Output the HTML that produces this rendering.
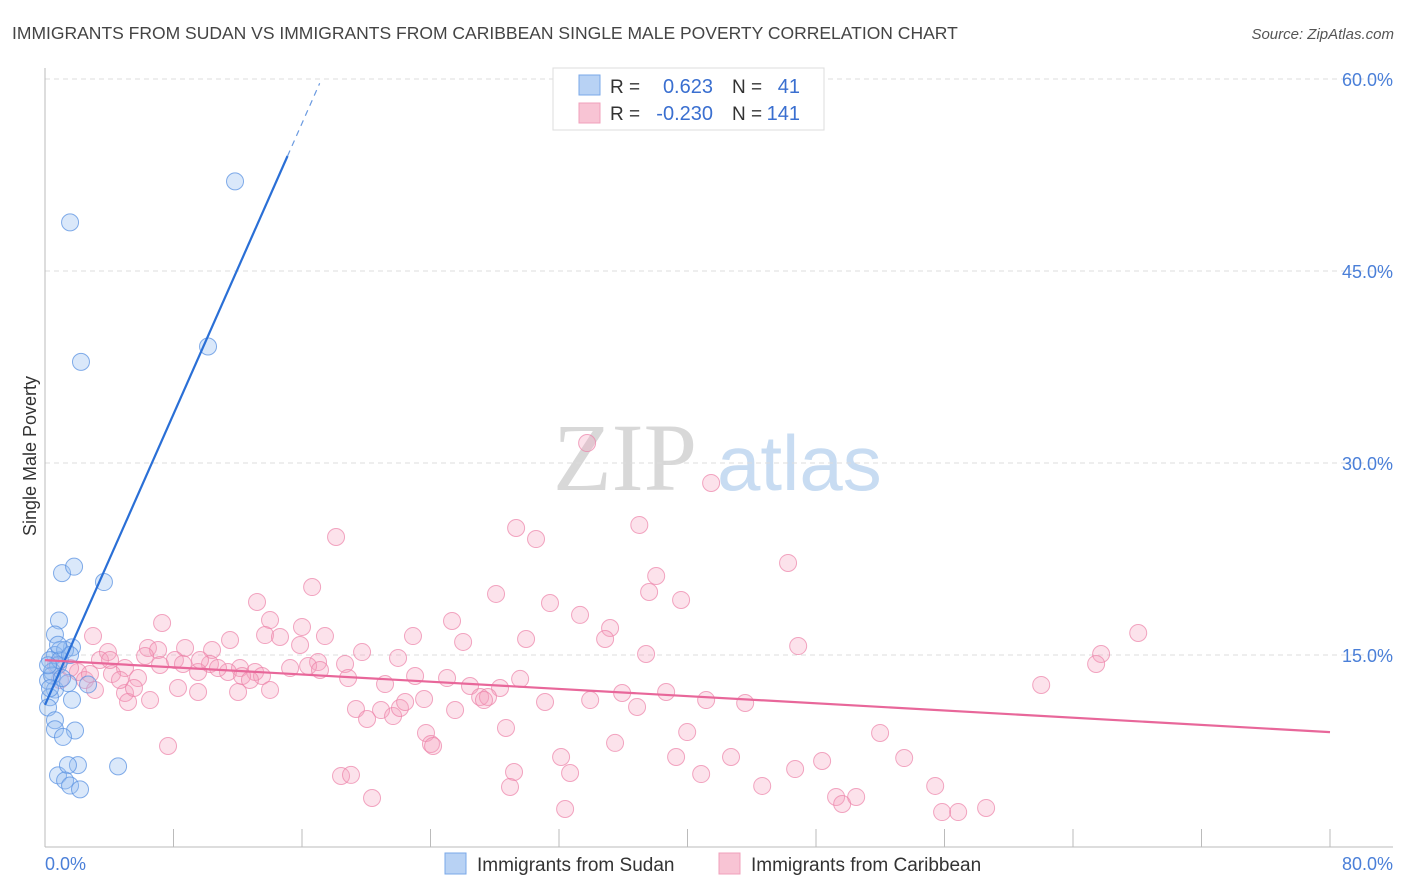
<!DOCTYPE html>
<html><head><meta charset="utf-8"><style>
body{margin:0;background:#fff;font-family:"Liberation Sans",sans-serif;}
#c{position:absolute;left:0;top:0;}
</style></head><body>
<svg id="c" width="1406" height="892">
<text x="12" y="39" font-size="17.5" fill="#444">IMMIGRANTS FROM SUDAN VS IMMIGRANTS FROM CARIBBEAN SINGLE MALE POVERTY CORRELATION CHART</text>
<text x="1394" y="39" font-size="15" fill="#555" font-style="italic" text-anchor="end">Source: ZipAtlas.com</text>
<g>
<text x="553" y="490" font-family="Liberation Serif,serif" font-size="96" fill="#d8d8d8">ZIP</text>
<text x="717" y="490" font-size="78" fill="#c8dcf2">atlas</text>
</g>
<g id="grid"></g>
<g id="axes"></g>
<g id="pts"></g>
<g id="lines"></g>
<text x="36" y="456" font-size="18" fill="#333" text-anchor="middle" transform="rotate(-90 36 456)">Single Male Poverty</text>
<g>
<rect x="553" y="68" width="271" height="62" fill="#fff" stroke="#ddd"/>
<rect x="579" y="75" width="21" height="20" fill="#b8d2f4" stroke="#7aa8e8"/>
<rect x="579" y="103" width="21" height="20" fill="#f8c4d4" stroke="#f0a0bb"/>
<text x="610" y="93" font-size="19" fill="#333">R =</text>
<text x="713" y="93" font-size="20" fill="#3a6fd0" text-anchor="end">0.623</text>
<text x="732" y="93" font-size="19" fill="#333">N =</text>
<text x="800" y="93" font-size="20" fill="#3a6fd0" text-anchor="end">41</text>
<text x="610" y="120" font-size="19" fill="#333">R =</text>
<text x="713" y="120" font-size="20" fill="#3a6fd0" text-anchor="end">-0.230</text>
<text x="732" y="120" font-size="19" fill="#333">N =</text>
<text x="800" y="120" font-size="20" fill="#3a6fd0" text-anchor="end">141</text>
</g>
<g>
<rect x="445" y="853" width="21" height="21" fill="#b8d2f4" stroke="#7aa8e8"/>
<text x="477" y="871" font-size="19" fill="#333">Immigrants from Sudan</text>
<rect x="719" y="853" width="21" height="21" fill="#f8c4d4" stroke="#f0a0bb"/>
<text x="751" y="871" font-size="19" fill="#333">Immigrants from Caribbean</text>
</g>
</svg>
<script>
const yTicks=[15,30,45,60];
const yTickLabels=["15.0%","30.0%","45.0%","60.0%"];
const xTicks=[0,8,16,24,32,40,48,56,64,72,80];
const xEndLabels=["0.0%","80.0%"];
const sudanX=[1.56,11.83,2.24,10.15,1.06,1.81,3.67,0.87,0.62,1.68,0.93,0.62,0.31,0.81,0.44,0.19,0.62,0.31,1.68,0.19,0.62,0.62,1.87,1.12,4.55,2.05,0.81,1.43,1.25,1.56,2.18,2.68,1.43,0.44,0.93,0.19,1.25,0.31,1.56,0.81,1.06];
const sudanY=[48.8,52.0,37.9,39.1,21.4,21.9,20.7,17.7,16.6,15.6,15.4,15.0,14.6,14.2,13.7,13.0,12.3,11.7,11.5,10.9,9.9,9.2,9.1,8.6,6.3,6.4,5.6,6.4,5.2,4.8,4.5,12.7,12.8,13.4,14.6,14.2,15.4,12.4,15.0,15.8,13.2];
const caribX=[33.75,41.47,18.12,29.33,30.57,37.0,46.26,38.05,16.63,28.08,37.61,39.6,31.44,33.31,13.2,25.34,7.29,14.01,16.0,35.18,68.06,2.99,13.7,14.63,17.43,22.91,26.03,29.95,34.87,46.89,65.75,65.44,3.92,6.41,7.04,8.72,10.4,6.23,8.09,10.27,12.14,13.08,15.26,17.0,18.68,19.74,21.98,37.42,3.42,4.98,8.59,9.53,11.39,13.51,16.38,17.12,18.87,21.17,23.04,25.03,26.46,28.33,29.58,4.17,5.79,8.28,9.53,12.02,4.98,5.17,5.54,10.77,12.27,12.76,2.05,1.56,2.49,2.8,31.13,33.94,35.93,36.86,38.67,41.16,43.59,62.02,27.09,27.58,19.36,20.92,21.67,22.1,20.05,22.42,23.6,25.53,27.33,28.7,23.72,24.03,24.16,7.66,35.49,39.98,51.99,32.13,39.29,42.71,53.49,29.2,32.69,40.85,46.7,48.38,18.43,19.05,28.95,44.65,55.42,20.36,32.38,49.25,49.63,50.5,55.85,56.85,58.59,4.05,4.67,6.54,0.93,0.68,3.11,15.88,14.01,7.16,9.65,11.52];
const caribY=[31.56,28.44,24.22,24.92,24.06,25.16,22.19,21.17,20.31,19.77,19.92,19.3,19.06,18.13,19.14,17.66,17.5,17.73,17.19,17.11,16.72,16.48,16.56,16.41,16.48,16.48,16.02,16.25,16.25,15.7,15.08,14.3,15.23,15.55,15.39,15.55,15.39,14.92,14.61,14.3,13.98,13.67,13.98,14.45,14.3,15.23,14.77,15.08,14.61,13.98,14.3,13.67,13.67,13.36,14.14,13.83,13.2,12.73,13.36,13.2,12.58,12.42,13.13,13.52,13.2,12.42,12.11,12.11,12.03,11.33,12.42,13.98,13.36,13.05,13.67,13.98,13.05,13.52,11.33,11.48,12.03,10.94,12.11,11.48,11.25,12.66,11.72,11.72,10.78,10.7,10.23,10.86,10.0,11.33,11.56,10.7,11.48,9.3,8.91,8.05,7.89,7.89,8.13,8.98,8.91,7.03,7.03,7.03,6.95,5.86,5.78,5.7,6.09,6.72,5.55,5.63,4.69,4.77,4.77,3.83,2.97,3.91,3.36,3.91,2.73,2.73,3.05,14.61,13.05,11.48,13.05,14.22,12.27,15.78,12.27,14.22,14.61,16.17];
const sudanTrend=[11.1,2.84]; // intercept, slope
const sudanSolidEnd=15.1, sudanDashEnd=17.1;
const caribTrend=[14.6,-0.0703];

const X=v=>45+v*16.0625;
const Y=v=>847-v*12.8;
const NS="http://www.w3.org/2000/svg";
function mk(tag,attrs,parent){const e=document.createElementNS(NS,tag);for(const k in attrs)e.setAttribute(k,attrs[k]);document.getElementById(parent).appendChild(e);return e;}

yTicks.forEach((t,i)=>{
  const g=mk('line',{x1:45,x2:1393,y1:Y(t),y2:Y(t),stroke:'#ddd','stroke-dasharray':'5,4'},'grid');
  
  
  const l=mk('text',{x:1393,y:Y(t)+7,'font-size':18,fill:'#4a7fd8','text-anchor':'end'},'grid');
  l.textContent=yTickLabels[i];
  
  
});
const ax=mk('line',{x1:45,x2:45,y1:68,y2:847,stroke:'#bbb'},'axes');


const bx=mk('line',{x1:45,x2:1393,y1:847,y2:847,stroke:'#bbb'},'axes');


xTicks.forEach(t=>{
  const k=mk('line',{x1:X(t),x2:X(t),y1:829,y2:847,stroke:'#bbb'},'axes');
  
  
});
const x0=mk('text',{x:45,y:870,'font-size':18,fill:'#4a7fd8'},'axes');
x0.textContent=xEndLabels[0];


const x1=mk('text',{x:1393,y:870,'font-size':18,fill:'#4a7fd8','text-anchor':'end'},'axes');
x1.textContent=xEndLabels[1];



caribX.forEach((v,i)=>{
  const c=mk('circle',{cx:X(v),cy:Y(caribY[i]),r:8.5,fill:'rgba(244,160,190,0.3)',stroke:'rgba(236,130,168,0.7)','stroke-width':1},'pts');
  
  
});
sudanX.forEach((v,i)=>{
  const c=mk('circle',{cx:X(v),cy:Y(sudanY[i]),r:8.5,fill:'rgba(150,190,240,0.35)',stroke:'rgba(90,145,225,0.75)','stroke-width':1},'pts');
  
  
});
const s1=mk('line',{x1:X(0),y1:Y(sudanTrend[0]),x2:X(sudanSolidEnd),y2:Y(sudanTrend[0]+sudanTrend[1]*sudanSolidEnd),stroke:'#2a6fd6','stroke-width':2.2},'lines');


const s2=mk('line',{x1:X(sudanSolidEnd),y1:Y(sudanTrend[0]+sudanTrend[1]*sudanSolidEnd),x2:X(sudanDashEnd),y2:Y(sudanTrend[0]+sudanTrend[1]*sudanDashEnd),stroke:'#6a9ae0','stroke-width':1.2,'stroke-dasharray':'6,5'},'lines');


const c1=mk('line',{x1:X(0),y1:Y(caribTrend[0]),x2:X(80),y2:Y(caribTrend[0]+caribTrend[1]*80),stroke:'#e8679a','stroke-width':2.2},'lines');


</script>
</body></html>
